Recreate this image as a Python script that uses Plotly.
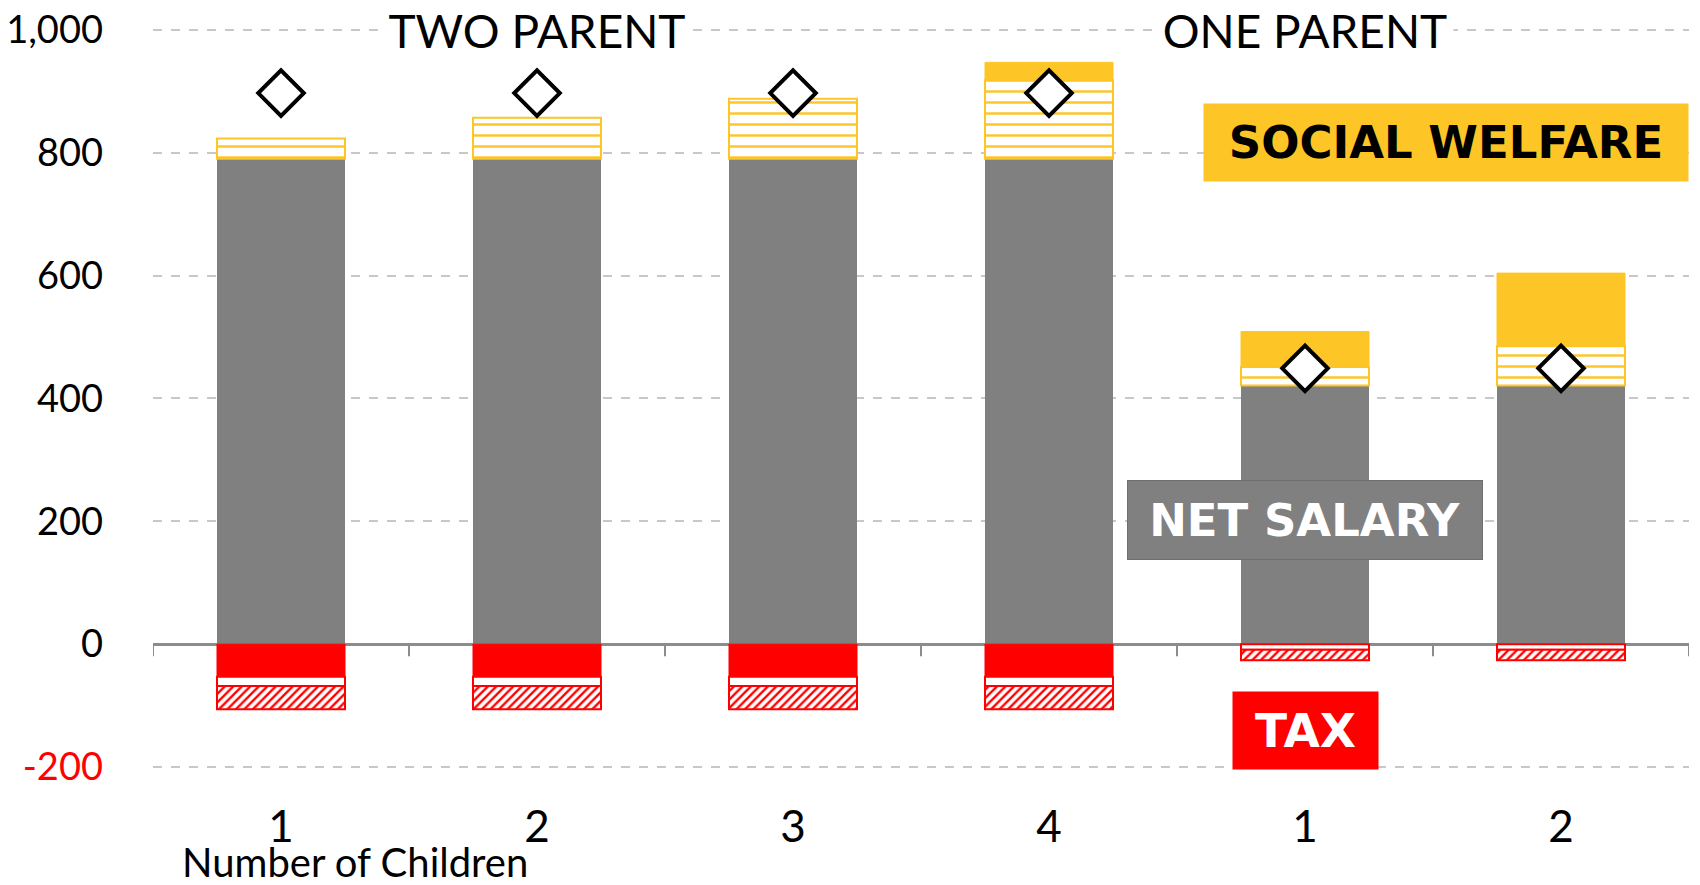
import plotly.graph_objects as go

# ---- data ----
categories = ["1", "2", "3", "4", "1", "2"]
family_type = ["TWO PARENT", "TWO PARENT", "TWO PARENT", "TWO PARENT", "ONE PARENT", "ONE PARENT"]
net_salary = [790, 790, 790, 790, 421, 421]
welfare_hatched = [33, 67, 98, 128, 30, 64]
welfare_solid = [None, None, None, 29, 58, 119]
tax_solid = [-53, -53, -53, -53, None, None]
tax_gap = [-15, -15, -15, -15, -9, -9]
tax_hatched = [-38, -38, -38, -38, -17, -17]
benchmark = [897, 897, 897, 897, 449, 449]
y_ticks = [-200, 0, 200, 400, 600, 800, 1000]

x = list(range(len(categories)))

GRAY = "#808080"
YELLOW = "#FDC526"
RED = "#FF0000"
FONT = "Lato"
BOLD_FONT = "DejaVu Sans"

fig = go.Figure()
fig.add_bar(x=x, y=net_salary, marker=dict(color=GRAY, line=dict(width=0)), name="Net salary")
fig.add_bar(x=x, y=welfare_hatched,
            marker=dict(color=YELLOW, line=dict(color=YELLOW, width=2),
                        pattern=dict(shape="-", fgcolor=YELLOW, bgcolor="white",
                                     size=11, solidity=0.22, fillmode="replace")),
            name="Welfare (hatched)")
fig.add_bar(x=x, y=welfare_solid, marker=dict(color=YELLOW, line=dict(color=YELLOW, width=1)),
            name="Welfare")
fig.add_bar(x=x, y=tax_solid, marker=dict(color=RED, line=dict(color=RED, width=1)), name="Tax")
fig.add_bar(x=x, y=tax_gap, marker=dict(color="white", line=dict(color=RED, width=2)), name="Tax gap")
fig.add_bar(x=x, y=tax_hatched,
            marker=dict(color=RED, line=dict(color=RED, width=2),
                        pattern=dict(shape="/", fgcolor=RED, bgcolor="white",
                                     size=6, solidity=0.4, fillmode="replace")),
            name="Tax (hatched)")
fig.add_scatter(x=x, y=benchmark, mode="markers",
                marker=dict(symbol="diamond", size=35, color="white",
                            line=dict(color="black", width=4)),
                name="Benchmark", cliponaxis=False)

# category boundary tick marks along zero line
for b in [i - 0.5 for i in range(len(categories) + 1)]:
    fig.add_shape(type="line", xref="x", yref="y", x0=b, x1=b, y0=0, y1=-12,
                  ysizemode="pixel", yanchor=0, line=dict(color="#8C8C8C", width=2))

ticktext = []
for v in y_ticks:
    s = f"{v:,}"
    if v < 0:
        s = f"<span style='color:{RED}'>{s}</span>"
    ticktext.append(s)

fig.update_layout(
    width=1700, height=885,
    margin=dict(l=145, r=19, t=12, b=98),
    barmode="relative", bargap=0.5,
    plot_bgcolor="white", paper_bgcolor="white",
    showlegend=False,
    font=dict(family=FONT, color="black", size=40),
    xaxis=dict(range=[-0.5, 5.5], tickvals=x, ticktext=categories, showgrid=False,
               zeroline=False, showline=False, ticks="", tickfont=dict(size=44),
               ticklabelstandoff=2, automargin=False, ticklabeloverflow="allow"),
    yaxis=dict(range=[-245.5, 1016], tickvals=y_ticks, ticktext=ticktext,
               showgrid=True, gridcolor="#C8C8C8", griddash="dash", gridwidth=1.5,
               zeroline=True, zerolinecolor="#8C8C8C", zerolinewidth=2.5,
               showline=False, ticks="", tickfont=dict(size=38), ticklabelstandoff=49,
               automargin=False, ticklabeloverflow="allow"),
)

ann = []
ann.append(dict(x=1, y=1000, xref="x", yref="y", text="TWO PARENT", showarrow=False,
                font=dict(size=46, color="black"), bgcolor="white", borderpad=0,
                width=300, height=44))
ann.append(dict(x=4, y=1000, xref="x", yref="y", text="ONE PARENT", showarrow=False,
                font=dict(size=46, color="black"), bgcolor="white", borderpad=0,
                width=296, height=44))
ann.append(dict(x=4.55, y=816, xref="x", yref="y", text="<b>SOCIAL WELFARE</b>", showarrow=False,
                font=dict(family=BOLD_FONT, size=45, color="black"), bgcolor=YELLOW,
                width=484, height=77, borderpad=0))
ann.append(dict(x=4, y=202, xref="x", yref="y", text="<b>NET SALARY</b>", showarrow=False,
                font=dict(family=BOLD_FONT, size=45, color="white"), bgcolor=GRAY,
                width=354, height=78, borderpad=0, bordercolor="#6E6E6E", borderwidth=1))
ann.append(dict(x=4, y=-141, xref="x", yref="y", text="<b>TAX</b>", showarrow=False,
                font=dict(family=BOLD_FONT, size=47, color="white"), bgcolor=RED,
                width=145, height=77, borderpad=0))
ann.append(dict(x=0.1315, y=-0.086, xref="paper", yref="paper", text="Number of Children",
                showarrow=False, font=dict(size=40, color="black"), xanchor="center",
                yanchor="middle"))
fig.update_layout(annotations=ann)

fig.write_html("out.html")
